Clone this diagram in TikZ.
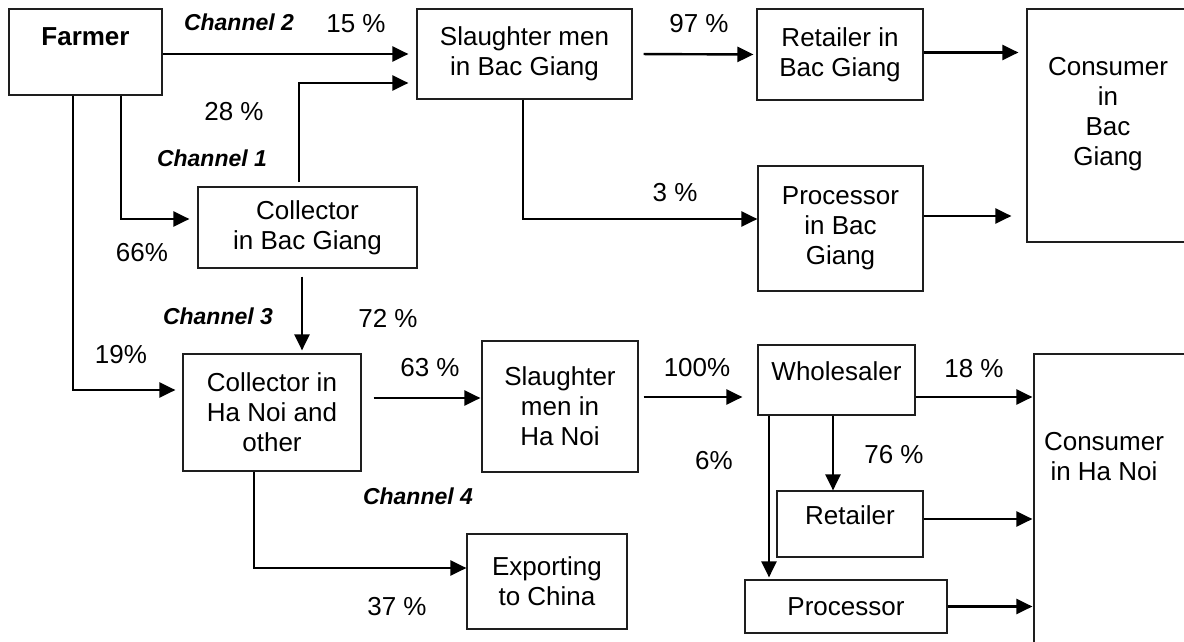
\documentclass[tikz,border=0pt]{standalone}
\usepackage{fontspec}
\setmainfont{Liberation Sans}
\usetikzlibrary{positioning, calc, arrows.meta}
\tikzstyle{chain} = [x = 1pt, y = -1pt]
\definecolor{boxColor}{RGB}{30,30,30}
\newcommand{\diagramFont}{\fontsize{26}{30}\selectfont}
\tikzstyle{stageBox} = [draw=boxColor, line width=1.2pt, align=center, inner sep=0pt, font=\diagramFont]
\tikzstyle{flowArrow} = [line width=2.4pt, -{Triangle[length=16pt, width=15pt]}]
\tikzstyle{shareText} = [font=\diagramFont, inner sep=0pt]
\tikzstyle{channelText} = [font=\fontsize{23}{27}\selectfont\bfseries\itshape, inner sep=0pt]
\newcommand{\stageNode}[7][]{\node [stageBox, #1, minimum width=#5 - #3, minimum height=#6 - #4] (#2) at ({(#3 + #5) / 2}, {(#4 + #6) / 2}) {#7};}

\begin{document}
\begin{tikzpicture}[chain]
\useasboundingbox (0,0) rectangle (1184,642);
% Bac Giang side
\stageNode[font={\diagramFont\bfseries}, text depth=30pt]{farmer}{9}{9}{162}{95}{Farmer}
\stageNode{slBG}{417}{9}{632}{99}{Slaughter men\\in Bac Giang}
\stageNode{retBG}{757}{9}{923}{100}{Retailer in\\Bac Giang}
\stageNode{procBG}{758}{166}{923}{291}{Processor\\in Bac\\Giang}
\stageNode{colBG}{198}{187}{417}{268}{Collector\\in Bac Giang}
\stageNode{conBG}{1027}{9}{1200}{242}{}
\node [shareText, align=center] (conBGText) at (1108,114) {Consumer\\in\\Bac\\Giang};
% Ha Noi side
\stageNode{colHN}{183}{354}{361}{471}{Collector in\\Ha Noi and\\other}
\stageNode{slHN}{482}{341}{638}{472}{Slaughter\\men in\\Ha Noi}
\stageNode{export}{467}{534}{627}{629}{Exporting\\to China}
\stageNode[text depth=17pt]{whole}{758}{345}{915}{415}{Wholesaler}
\stageNode[text depth=17pt]{retHN}{777}{491}{923}{557}{Retailer}
\stageNode{procHN}{745}{580}{947}{633}{Processor}
\stageNode{conHN}{1034}{354}{1200}{660}{}
\node [shareText, align=center] (conHNText) at (1104,457) {Consumer\\in Ha Noi};
% flows
\draw [flowArrow, shorten >=8pt] (farmer.east |- slBG.west) -- (slBG.west);
\draw [flowArrow, shorten >=8pt] ([xshift=-8.5pt, yshift=4pt]colBG.north) |- ([yshift=-29pt]slBG.west);
\draw [flowArrow, shorten <=11pt, shorten >=3pt] (slBG.east) -- (retBG.west);
\draw [flowArrow, shorten >=8pt] ([yshift=2pt]retBG.east) -- ([yshift=2pt]retBG.east -| conBG.west);
\draw [flowArrow, shorten >=8pt] ([xshift=35.5pt]farmer.south) |- ([yshift=8.5pt]colBG.west);
\draw [flowArrow, shorten >=7pt] ([xshift=-12.5pt]farmer.south) |- ([yshift=22.5pt]colHN.west);
\draw [flowArrow, shorten <=8pt, shorten >=3pt] ([xshift=-5.5pt]colBG.south) -- ([xshift=-5.5pt]colBG.south |- colHN.north);
\draw [flowArrow] ([xshift=-1.5pt]slBG.south) |- ([yshift=9.5pt]procBG.west);
\draw [flowArrow, shorten >=15pt] ([yshift=12.5pt]procBG.east) -- ([yshift=12.5pt]procBG.east -| conBG.west);
\draw [flowArrow, shorten <=12pt, shorten >=1pt] ([yshift=14.5pt]colHN.east) -- ([yshift=14.5pt]colHN.east -| slHN.west);
\draw [flowArrow, shorten <=5pt, shorten >=15pt] ([yshift=9.5pt]slHN.east) -- ([yshift=9.5pt]slHN.east -| whole.west);
\draw [flowArrow, shorten >=1pt] ([yshift=-17pt]whole.east) -- ([yshift=-17pt]whole.east -| conHN.west);
\draw [flowArrow] ([xshift=-3.5pt]whole.south) -- ([xshift=-3.5pt]whole.south |- retHN.north);
\draw [flowArrow, shorten >=2pt] ([xshift=-67.5pt]whole.south) -- ([xshift=-67.5pt]whole.south |- procHN.north);
\draw [flowArrow, shorten >=1pt] ([yshift=5pt]retHN.east) -- ([yshift=5pt]retHN.east -| conHN.west);
\draw [flowArrow, shorten >=1pt] (procHN.east) -- (procHN.east -| conHN.west);
\draw [flowArrow] ([xshift=-18pt]colHN.south) |- ([yshift=13.5pt]export.west);
% shares and channels
\node [channelText] (channelTwo) at (239,22) {Channel 2};
\node [channelText] (channelOne) at (212,158) {Channel 1};
\node [channelText] (channelThree) at (218,316) {Channel 3};
\node [channelText] (channelFour) at (418,496) {Channel 4};
\node [shareText] (shareFifteen) at (356,24) {15 \%};
\node [shareText] (shareNinetySeven) at (699,24) {97 \%};
\node [shareText] (shareTwentyEight) at (234,112) {28 \%};
\node [shareText] (shareSixtySix) at (142,253) {66\%};
\node [shareText] (shareThree) at (675,193) {3 \%};
\node [shareText] (shareSeventyTwo) at (388,318) {72 \%};
\node [shareText] (shareNineteen) at (121,355) {19\%};
\node [shareText] (shareSixtyThree) at (430,368) {63 \%};
\node [shareText] (shareHundred) at (697,368) {100\%};
\node [shareText] (shareEighteen) at (974,369) {18 \%};
\node [shareText] (shareSix) at (714,461) {6\%};
\node [shareText] (shareSeventySix) at (894,455) {76 \%};
\node [shareText] (shareThirtySeven) at (397,607) {37 \%};
\end{tikzpicture}
\end{document}
